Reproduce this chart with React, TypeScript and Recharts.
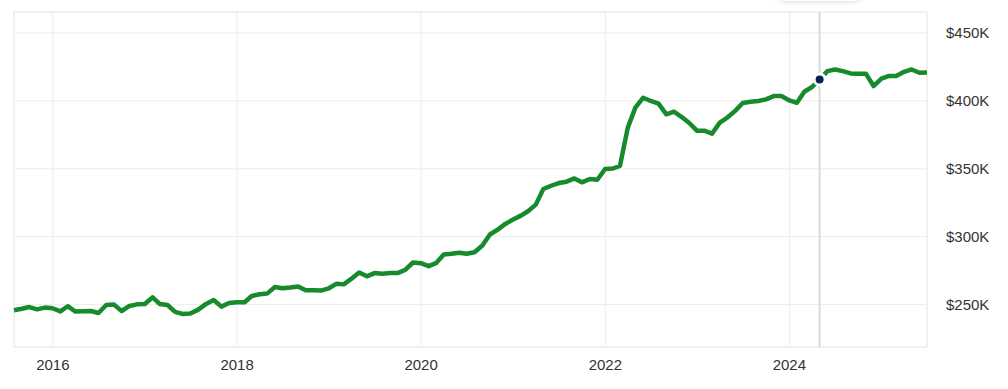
import {
  LineChart,
  Line,
  XAxis,
  YAxis,
  CartesianGrid,
  ReferenceArea,
  ReferenceLine,
  ReferenceDot,
} from "recharts";

// monthly median sale price, in $K
const months = [
  "2015-07", "2015-08", "2015-09", "2015-10", "2015-11", "2015-12",
  "2016-01", "2016-02", "2016-03", "2016-04", "2016-05", "2016-06", "2016-07", "2016-08", "2016-09", "2016-10", "2016-11", "2016-12",
  "2017-01", "2017-02", "2017-03", "2017-04", "2017-05", "2017-06", "2017-07", "2017-08", "2017-09", "2017-10", "2017-11", "2017-12",
  "2018-01", "2018-02", "2018-03", "2018-04", "2018-05", "2018-06", "2018-07", "2018-08", "2018-09", "2018-10", "2018-11", "2018-12",
  "2019-01", "2019-02", "2019-03", "2019-04", "2019-05", "2019-06", "2019-07", "2019-08", "2019-09", "2019-10", "2019-11", "2019-12",
  "2020-01", "2020-02", "2020-03", "2020-04", "2020-05", "2020-06", "2020-07", "2020-08", "2020-09", "2020-10", "2020-11", "2020-12",
  "2021-01", "2021-02", "2021-03", "2021-04", "2021-05", "2021-06", "2021-07", "2021-08", "2021-09", "2021-10", "2021-11", "2021-12",
  "2022-01", "2022-02", "2022-03", "2022-04", "2022-05", "2022-06", "2022-07", "2022-08", "2022-09", "2022-10", "2022-11", "2022-12",
  "2023-01", "2023-02", "2023-03", "2023-04", "2023-05", "2023-06", "2023-07", "2023-08", "2023-09", "2023-10", "2023-11", "2023-12",
  "2024-01", "2024-02", "2024-03", "2024-04", "2024-05", "2024-06", "2024-07", "2024-08", "2024-09", "2024-10", "2024-11", "2024-12",
  "2025-01", "2025-02", "2025-03", "2025-04", "2025-05", "2025-06",
];

const medianPrice = [
  245.8, 247.0, 248.2, 246.5, 247.8, 247.3,
  245.0, 248.8, 244.9, 245.1, 245.3, 243.8, 249.7, 250.0, 245.3, 249.0, 250.2, 250.5,
  255.4, 250.5, 249.7, 244.6, 243.1, 243.4, 246.3, 250.5, 253.4, 248.5, 251.2, 251.7,
  251.7, 256.3, 257.6, 258.1, 262.9, 262.0, 262.6, 263.4, 260.5, 260.6, 260.3, 262.0,
  265.4, 264.9, 269.1, 273.7, 270.8, 273.2, 272.7, 273.2, 273.2, 275.7, 281.0, 280.5,
  278.3, 280.5, 286.9, 287.4, 288.1, 287.4, 288.6, 293.5, 301.6, 305.2, 309.4, 312.6,
  315.5, 318.7, 323.6, 335.1, 337.5, 339.5, 340.5, 342.9, 340.0, 342.5, 341.9, 349.8,
  350.2, 352.2, 380.3, 395.0, 402.3, 399.9, 397.9, 390.1, 392.0, 388.1, 383.7, 377.9,
  377.9, 375.9, 384.0, 387.7, 392.6, 398.4, 399.4, 399.9, 401.1, 403.5, 403.5, 400.4,
  398.6, 406.7, 410.2, 415.8, 421.9, 423.1, 421.9, 420.2, 419.9, 419.9, 410.9, 416.3,
  418.3, 418.3, 421.4, 423.1, 420.7, 420.9,
];

const yearTicks = [2016, 2018, 2020, 2022, 2024];
const priceTicks = [250, 300, 350, 400, 450];
const hoverMonth = "2024-04";

const GREEN = "#178a2c";
const GRID = "#ececec";
const TEXT = "#333333";
const FONT = "'Liberation Sans', Arial, sans-serif";

// points sit at the end of each month on a time axis
const monthEnd = (m: string) => {
  const [y, mo] = m.split("-").map(Number);
  return Date.UTC(y, mo, 0);
};

const data = months.map((m, i) => ({ t: monthEnd(m), price: medianPrice[i] }));
const xStart = data[0].t;
const xEnd = data[data.length - 1].t;
const yMin = Math.min(...medianPrice) * 0.9;
const yMax = Math.max(...medianPrice) * 1.1;
const hoverIdx = months.indexOf(hoverMonth);

export default function App() {
  return (
    <div style={{ position: "absolute", left: 0, top: 0, width: 1008, height: 389, overflow: "hidden" }}>
      <LineChart
        width={1008}
        height={389}
        data={data}
        margin={{ top: 12, right: 0, left: 14, bottom: 0 }}
      >
        <CartesianGrid stroke={GRID} strokeWidth={1} />
        <ReferenceArea
          x1={xStart}
          x2={xEnd}
          y1={yMin}
          y2={yMax}
          fill="none"
          stroke={GRID}
          strokeWidth={1}
          fillOpacity={0}
        />
        <XAxis
          dataKey="t"
          type="number"
          scale="linear"
          domain={[xStart, xEnd]}
          ticks={yearTicks.map((y) => Date.UTC(y, 0, 1))}
          tickFormatter={(v) => String(new Date(v).getUTCFullYear())}
          height={42}
          axisLine={false}
          tickLine={false}
          tickSize={0}
          tickMargin={12}
          tick={{ fill: TEXT, fontSize: 15, fontFamily: FONT }}
        />
        <YAxis
          orientation="right"
          type="number"
          domain={[yMin, yMax]}
          ticks={priceTicks}
          tickFormatter={(v) => `$${v}K`}
          width={81}
          axisLine={false}
          tickLine={false}
          tickSize={0}
          tickMargin={19}
          tick={{ fill: TEXT, fontSize: 15, fontFamily: FONT, textAnchor: "start" }}
        />
        <ReferenceLine x={data[hoverIdx].t} stroke="#d9d9d9" strokeWidth={2} />
        <Line
          type="linear"
          dataKey="price"
          stroke={GREEN}
          strokeWidth={4.5}
          strokeLinejoin="round"
          dot={false}
          activeDot={false}
          isAnimationActive={false}
        />
        <ReferenceDot
          x={data[hoverIdx].t}
          y={data[hoverIdx].price}
          r={5.5}
          fill="#0b1d57"
          stroke="#ffffff"
          strokeWidth={3}
        />
      </LineChart>
      {/* tooltip box, mostly scrolled off the top */}
      <div
        style={{
          position: "absolute",
          left: 778,
          top: -40,
          width: 83,
          height: 41,
          background: "#fff",
          borderRadius: 6,
          boxShadow: "0 1px 4px rgba(0,0,0,0.14)",
        }}
      />
    </div>
  );
}
